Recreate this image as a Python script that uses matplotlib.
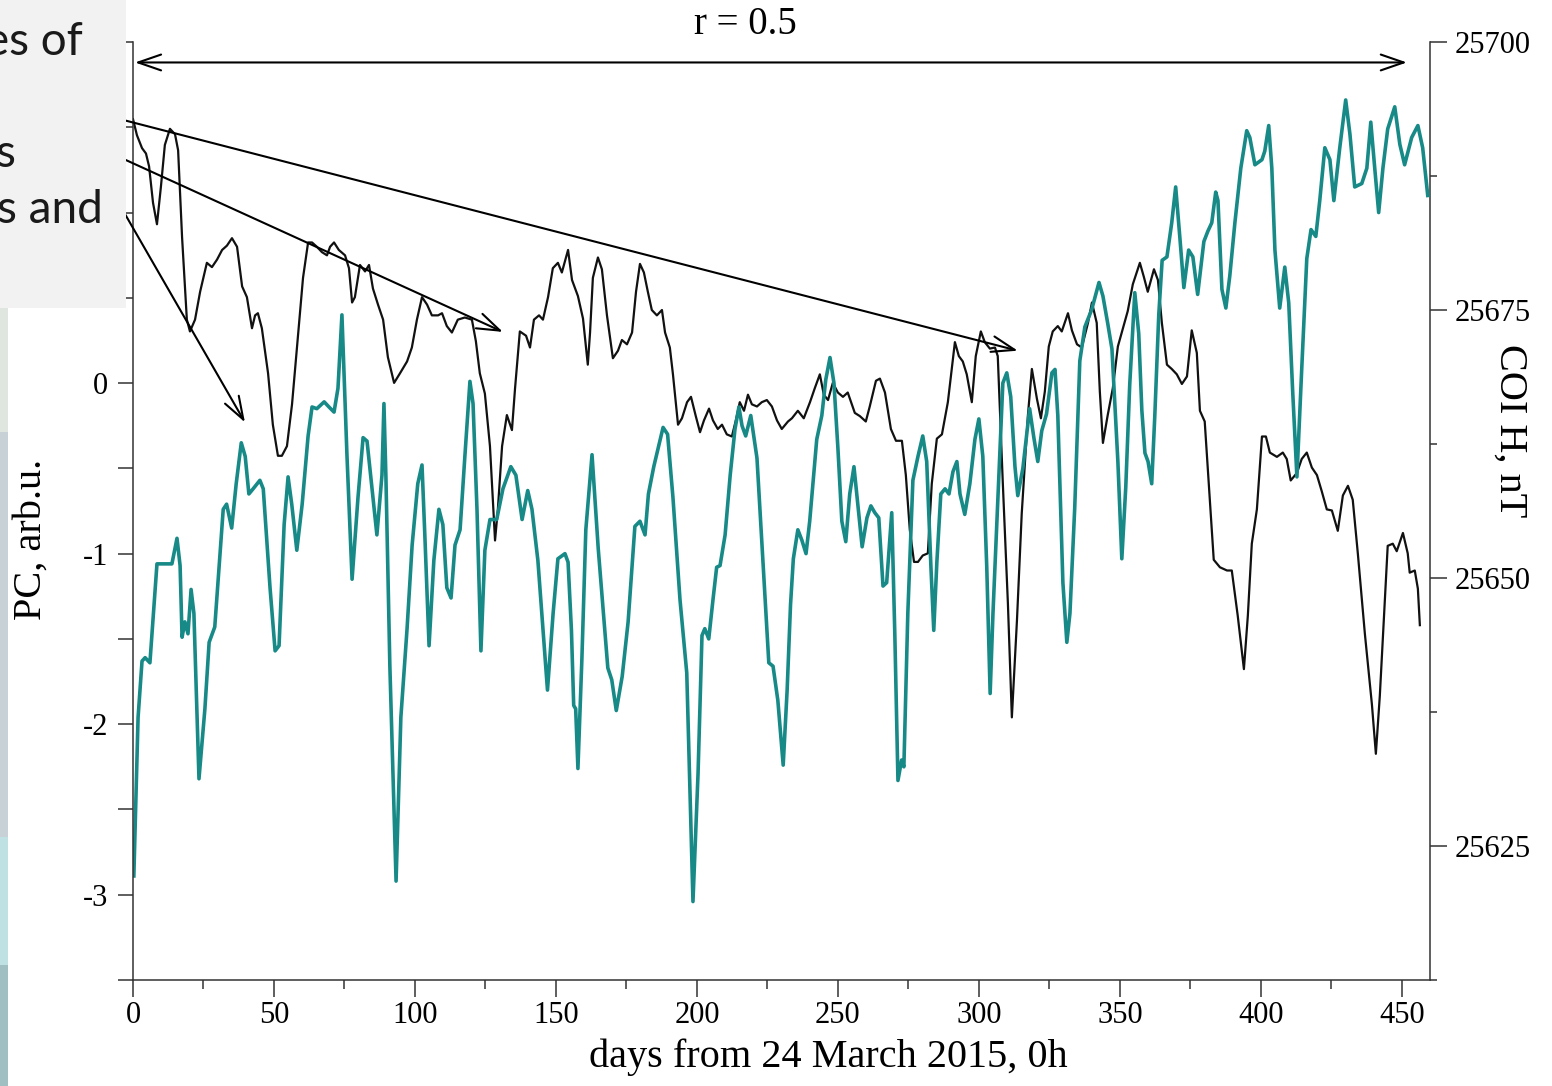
import matplotlib
matplotlib.use("Agg")
import matplotlib.pyplot as plt
from matplotlib.patches import Rectangle
from matplotlib.ticker import MultipleLocator

plt.rcParams['axes.unicode_minus'] = False
plt.rcParams['font.family'] = ['Liberation Serif', 'DejaVu Serif']

# PC series (left axis), days from 24 March 2015
teal_day = [
    0.3, 1.8, 3.2, 4.3, 6.0, 8.5, 10.3, 13.8, 15.6, 16.7,
    17.4, 18.4, 19.5, 20.6, 21.6, 23.4, 25.5, 27.0, 29.0, 32.0,
    33.2, 35.0, 36.6, 38.4, 39.8, 41.1, 42.6, 45.0, 46.2, 48.6,
    50.4, 51.8, 53.6, 55.0, 56.3, 58.1, 60.0, 62.1, 63.5, 65.2,
    67.8, 69.5, 71.3, 72.7, 74.1, 75.9, 77.7, 79.8, 81.6, 83.0,
    84.8, 86.5, 88.3, 89.0, 89.7, 91.1, 93.3, 95.0, 97.2, 99.0,
    101.0, 102.5, 103.5, 105.0, 106.7, 108.5, 109.9, 111.3, 112.8, 114.2,
    116.0, 117.7, 119.5, 120.6, 122.0, 123.4, 124.8, 126.6, 129.0, 131.2,
    134.0, 135.8, 138.0, 140.0, 141.5, 143.6, 147.0, 149.0, 150.7, 153.2,
    154.3, 155.5, 156.3, 157.0, 157.8, 159.2, 160.6, 162.8, 165.0, 168.4,
    169.8, 171.4, 173.5, 175.6, 178.0, 179.8, 181.6, 182.8, 184.7, 188.0,
    189.6, 191.5, 194.0, 196.4, 198.6, 200.4, 201.8, 202.8, 204.2, 205.7,
    207.0, 208.2, 210.0, 211.8, 213.5, 214.9, 216.0, 217.3, 219.1, 221.3,
    224.1, 225.5, 227.0, 228.7, 230.6, 232.0, 233.2, 234.2, 235.8, 237.2,
    238.7, 240.0, 242.5, 244.3, 245.7, 247.2, 248.6, 250.0, 251.4, 252.8,
    254.2, 255.7, 257.0, 258.6, 260.3, 261.7, 263.1, 264.5, 266.0, 267.3,
    269.1, 270.2, 271.3, 272.6, 273.4, 274.8, 276.6, 278.4, 280.1, 281.5,
    283.0, 284.0, 285.1, 286.5, 288.0, 289.4, 290.8, 292.2, 293.3, 295.0,
    296.8, 298.6, 300.0, 301.4, 302.8, 304.0, 305.0, 306.7, 308.5, 309.9,
    311.3, 312.8, 313.8, 315.6, 318.0, 319.5, 320.9, 322.3, 324.0, 325.9,
    327.0, 328.0, 329.8, 331.2, 332.3, 334.0, 335.8, 337.6, 340.0, 342.6,
    344.0, 345.7, 347.2, 349.3, 350.7, 352.1, 353.5, 355.3, 356.7, 357.8,
    358.9, 360.0, 361.3, 362.4, 363.8, 365.0, 366.7, 368.4, 369.8, 371.3,
    372.7, 374.4, 375.9, 377.6, 379.8, 381.2, 382.6, 384.0, 384.8, 386.2,
    387.6, 389.0, 390.8, 392.9, 395.0, 396.1, 397.9, 400.4, 401.4, 402.8,
    403.9, 405.0, 406.7, 408.5, 409.9, 411.3, 412.8, 414.5, 416.3, 417.8,
    419.5, 420.9, 422.7, 424.5, 425.9, 428.0, 430.1, 431.6, 433.3, 435.8,
    437.6, 439.0, 440.4, 441.8, 443.3, 445.0, 447.5, 449.3, 451.0, 453.5,
    455.7, 457.4, 459.2,
]
teal_pc = [
    -2.89, -1.96, -1.63, -1.61, -1.64, -1.06, -1.06, -1.06, -0.91, -1.07,
    -1.49, -1.40, -1.47, -1.21, -1.35, -2.32, -1.91, -1.52, -1.43, -0.74,
    -0.71, -0.85, -0.59, -0.35, -0.43, -0.65, -0.62, -0.57, -0.62, -1.20,
    -1.57, -1.54, -0.83, -0.55, -0.71, -0.98, -0.71, -0.31, -0.14, -0.15,
    -0.11, -0.14, -0.17, -0.03, 0.40, -0.43, -1.15, -0.67, -0.32, -0.34,
    -0.62, -0.89, -0.54, -0.12, -0.55, -1.66, -2.92, -1.96, -1.44, -0.95,
    -0.59, -0.48, -0.89, -1.54, -1.04, -0.74, -0.83, -1.20, -1.26, -0.95,
    -0.86, -0.43, 0.01, -0.12, -0.74, -1.57, -0.98, -0.80, -0.80, -0.62,
    -0.49, -0.54, -0.80, -0.63, -0.74, -1.04, -1.80, -1.35, -1.03, -1.00,
    -1.05, -1.45, -1.89, -1.91, -2.26, -1.62, -0.86, -0.42, -0.97, -1.67,
    -1.74, -1.92, -1.72, -1.40, -0.84, -0.81, -0.89, -0.65, -0.49, -0.26,
    -0.30, -0.67, -1.27, -1.70, -3.04, -2.29, -1.48, -1.44, -1.50, -1.27,
    -1.08, -1.07, -0.89, -0.54, -0.27, -0.14, -0.25, -0.31, -0.19, -0.44,
    -1.24, -1.64, -1.66, -1.86, -2.24, -1.80, -1.30, -1.03, -0.86, -0.92,
    -1.00, -0.81, -0.33, -0.19, 0.02, 0.15, 0.00, -0.38, -0.81, -0.93,
    -0.65, -0.49, -0.70, -0.96, -0.79, -0.72, -0.76, -0.79, -1.19, -1.17,
    -0.76, -1.48, -2.33, -2.21, -2.25, -1.35, -0.57, -0.43, -0.31, -0.46,
    -1.08, -1.45, -1.05, -0.65, -0.62, -0.65, -0.52, -0.46, -0.65, -0.77,
    -0.59, -0.33, -0.21, -0.43, -1.08, -1.82, -1.35, -0.70, 0.00, 0.06,
    -0.08, -0.49, -0.66, -0.50, -0.15, -0.32, -0.46, -0.28, -0.18, 0.06,
    0.08, -0.19, -1.17, -1.52, -1.35, -0.73, 0.13, 0.33, 0.43, 0.59,
    0.51, 0.35, 0.20, -0.46, -1.03, -0.61, -0.01, 0.53, 0.29, -0.16,
    -0.41, -0.46, -0.59, -0.19, 0.40, 0.72, 0.74, 0.94, 1.15, 0.85,
    0.56, 0.78, 0.74, 0.52, 0.83, 0.89, 0.94, 1.12, 1.07, 0.55,
    0.44, 0.63, 0.94, 1.26, 1.48, 1.44, 1.28, 1.31, 1.36, 1.51,
    1.26, 0.78, 0.44, 0.68, 0.47, -0.05, -0.55, 0.08, 0.73, 0.90,
    0.86, 1.07, 1.38, 1.31, 1.07, 1.38, 1.66, 1.46, 1.15, 1.17,
    1.26, 1.53, 1.26, 1.00, 1.26, 1.49, 1.62, 1.40, 1.28, 1.44,
    1.51, 1.38, 1.10,
]

# COI H component (right axis), nT
coi_day = [
    0.0, 1.4, 3.2, 4.6, 5.7, 7.1, 8.5, 9.9, 11.3, 13.1,
    14.9, 16.0, 17.4, 19.1, 20.2, 22.0, 23.8, 26.2, 28.0, 29.8,
    31.6, 33.3, 35.1, 36.9, 38.7, 40.4, 42.2, 43.3, 44.3, 45.7,
    47.9, 49.6, 51.4, 52.8, 54.6, 56.4, 58.5, 60.3, 62.1, 63.5,
    65.2, 67.0, 68.8, 69.9, 71.3, 73.0, 75.2, 76.6, 77.7, 78.7,
    80.5, 82.3, 83.7, 85.1, 86.9, 88.7, 90.4, 92.6, 94.7, 97.2,
    98.9, 100.7, 102.5, 104.3, 106.0, 108.2, 109.6, 111.3, 113.1, 115.2,
    117.7, 120.2, 121.6, 123.0, 124.8, 126.6, 128.4, 129.4, 130.9, 132.6,
    134.4, 135.5, 137.2, 139.4, 140.8, 142.2, 144.0, 145.4, 147.2, 148.9,
    150.7, 152.1, 154.3, 155.7, 157.8, 159.6, 161.3, 162.1, 163.1, 164.9,
    166.3, 168.1, 170.2, 172.0, 173.4, 175.2, 177.0, 178.4, 179.8, 181.2,
    182.6, 184.0, 185.8, 187.6, 188.7, 190.4, 191.5, 193.3, 194.7, 196.5,
    197.9, 199.6, 201.1, 202.5, 204.3, 205.7, 207.4, 208.9, 210.6, 212.4,
    213.8, 215.2, 216.7, 218.1, 219.5, 221.3, 223.0, 224.8, 226.6, 228.4,
    230.1, 232.3, 233.7, 235.8, 237.9, 240.1, 241.8, 243.6, 245.0, 246.5,
    248.2, 250.0, 251.8, 253.5, 256.0, 257.8, 259.9, 261.3, 263.5, 264.9,
    266.7, 268.8, 270.6, 272.7, 274.1, 275.5, 277.0, 278.4, 280.1, 281.9,
    283.3, 285.1, 286.9, 289.0, 291.5, 292.9, 294.3, 295.7, 297.5, 298.9,
    300.7, 302.1, 303.9, 305.7, 306.7, 308.5, 310.3, 311.7, 313.5, 315.2,
    317.4, 318.8, 320.6, 322.0, 323.4, 324.8, 326.2, 328.0, 329.4, 331.6,
    333.0, 334.8, 336.5, 338.7, 340.1, 341.8, 342.9, 344.0, 345.7, 347.5,
    349.3, 351.1, 352.8, 354.6, 357.1, 358.5, 359.9, 362.1, 363.5, 364.9,
    366.7, 368.4, 370.2, 372.0, 373.8, 375.5, 377.3, 378.4, 380.1, 381.6,
    383.3, 385.5, 388.0, 389.7, 391.8, 394.0, 395.4, 396.8, 398.6, 400.4,
    401.8, 403.2, 405.7, 407.8, 409.2, 410.6, 412.8, 414.5, 416.3, 418.1,
    419.9, 421.6, 423.4, 425.2, 427.3, 429.1, 430.9, 432.6, 434.4, 436.9,
    439.4, 440.8, 442.2, 444.0, 445.0, 446.8, 448.2, 450.4, 452.1, 452.8,
    454.6, 455.7, 456.4,
]
coi_h = [
    25692.8, 25691.3, 25690.1, 25689.6, 25688.4, 25685.0, 25683.0, 25686.5, 25690.4, 25691.9,
    25691.4, 25689.9, 25681.8, 25674.1, 25673.0, 25674.1, 25676.7, 25679.4, 25679.0, 25679.7,
    25680.6, 25681.0, 25681.7, 25680.9, 25677.2, 25676.2, 25673.3, 25674.5, 25674.7, 25673.3,
    25669.1, 25664.3, 25661.4, 25661.4, 25662.3, 25666.2, 25672.6, 25678.0, 25681.3, 25681.3,
    25680.9, 25680.4, 25680.1, 25680.9, 25681.3, 25680.6, 25680.1, 25678.9, 25675.7, 25676.2,
    25679.2, 25678.6, 25679.2, 25677.0, 25675.5, 25674.1, 25670.6, 25668.2, 25669.1, 25670.2,
    25671.5, 25674.1, 25676.2, 25675.5, 25674.5, 25674.5, 25674.7, 25673.5, 25672.9, 25674.1,
    25674.3, 25674.1, 25672.1, 25669.1, 25667.2, 25662.3, 25653.5, 25656.4, 25662.3, 25665.2,
    25663.8, 25667.7, 25673.0, 25672.6, 25671.5, 25674.1, 25674.5, 25674.1, 25676.2, 25678.9,
    25679.4, 25678.5, 25680.6, 25677.8, 25676.3, 25674.2, 25669.9, 25672.9, 25678.0, 25679.9,
    25678.8, 25674.5, 25670.5, 25671.2, 25672.2, 25671.8, 25672.9, 25676.7, 25679.3, 25678.5,
    25676.7, 25675.0, 25674.5, 25675.0, 25672.9, 25671.5, 25669.0, 25664.3, 25664.9, 25666.4,
    25666.9, 25665.1, 25663.6, 25664.7, 25665.8, 25664.7, 25663.9, 25664.3, 25663.4, 25663.2,
    25664.7, 25666.4, 25665.6, 25667.1, 25666.2, 25666.0, 25666.4, 25666.6, 25666.0, 25664.7,
    25663.9, 25664.6, 25664.9, 25665.6, 25664.9, 25666.4, 25667.7, 25669.0, 25667.1, 25666.6,
    25668.2, 25667.3, 25666.9, 25667.3, 25665.4, 25665.1, 25664.6, 25666.0, 25668.4, 25668.6,
    25667.3, 25663.9, 25662.8, 25662.8, 25659.6, 25654.5, 25651.5, 25651.5, 25652.1, 25652.3,
    25658.8, 25663.0, 25663.4, 25666.4, 25672.0, 25670.7, 25670.2, 25669.0, 25666.4, 25670.7,
    25673.0, 25672.0, 25671.4, 25671.5, 25670.7, 25658.8, 25647.6, 25637.0, 25646.0, 25656.0,
    25665.2, 25669.5, 25666.7, 25664.9, 25667.4, 25671.6, 25673.0, 25673.5, 25673.0, 25674.7,
    25673.1, 25671.8, 25671.5, 25673.8, 25675.7, 25673.8, 25667.4, 25662.6, 25665.2, 25667.7,
    25671.6, 25673.3, 25674.9, 25677.4, 25679.4, 25678.1, 25676.7, 25678.8, 25677.8, 25673.8,
    25669.9, 25669.5, 25669.0, 25668.1, 25668.8, 25673.1, 25671.0, 25665.6, 25664.6, 25658.5,
    25651.7, 25651.0, 25650.7, 25650.7, 25646.5, 25641.5, 25646.5, 25653.2, 25656.4, 25663.2,
    25663.2, 25661.7, 25661.3, 25661.7, 25661.1, 25659.1, 25659.8, 25661.1, 25661.7, 25660.3,
    25659.6, 25658.1, 25656.4, 25656.3, 25654.4, 25657.7, 25658.6, 25657.3, 25652.3, 25644.8,
    25638.2, 25633.6, 25639.0, 25648.1, 25653.0, 25653.2, 25652.5, 25654.2, 25652.3, 25650.5,
    25650.7, 25649.0, 25645.6,
]

day_ticks = [0, 50, 100, 150, 200, 250, 300, 350, 400, 450]
pc_ticks = [-3, -2, -1, 0, 1, 2]
pc_labels = ['-3', '-2', '-1', '0', '', '']   # 1 and 2 sit under the slide box
h_ticks = [25625, 25650, 25675, 25700]

W, H = 1552, 1086
fig = plt.figure(figsize=(W / 100, H / 100), dpi=100)
ax = fig.add_axes([133 / W, 106 / H, 1297 / W, 938 / H])
ax2 = ax.twinx()
ax.set_zorder(ax2.get_zorder() + 1)
ax.patch.set_visible(False)

ax2.plot(coi_day, coi_h, color='#111111', lw=1.6)
ax.plot(teal_day, teal_pc, color='#178a87', lw=2.6)

ax.set_xlim(0, 460)
ax.set_ylim(-3.5, 2.0)
ax2.set_ylim(25612.5, 25700)

ax.set_xticks(day_ticks)
ax.xaxis.set_minor_locator(MultipleLocator(25))
ax.set_yticks(pc_ticks)
ax.set_yticklabels(pc_labels)
ax.yaxis.set_minor_locator(MultipleLocator(0.5))
ax2.set_yticks(h_ticks)
ax2.yaxis.set_minor_locator(MultipleLocator(12.5))

spine_c = '#333333'
for s in ['top', 'right']:
    ax.spines[s].set_visible(False)
for s in ['top', 'left', 'bottom']:
    ax2.spines[s].set_visible(False)
for s in ['left', 'bottom']:
    ax.spines[s].set_linewidth(1.1)
    ax.spines[s].set_color(spine_c)
ax2.spines['right'].set_linewidth(1.1)
ax2.spines['right'].set_color(spine_c)

ax.tick_params(axis='x', which='major', length=12, width=1.1, color=spine_c,
               labelsize=22, pad=3)
ax.tick_params(axis='x', which='minor', length=6.5, width=1.1, color=spine_c)
ax.tick_params(axis='y', which='both', length=11, width=1.1, color=spine_c,
               labelsize=22, pad=7)
ax2.tick_params(axis='y', which='major', length=12, width=1.1, color=spine_c,
                labelsize=22, pad=6)
ax2.tick_params(axis='y', which='minor', length=5, width=1.1, color=spine_c)

ax.set_xlabel('days from 24 March 2015, 0h', fontsize=29)
ax.xaxis.set_label_coords(0.536, -0.062)
ax.set_ylabel('PC, arb.u.', fontsize=29)
ax.yaxis.set_label_coords(-0.064, 0.47)
ax2.set_ylabel('COI H, nT', fontsize=29, rotation=270, va='bottom')
ax2.yaxis.set_label_coords(1.047, 0.586)

fig.text(745 / W, 1 - 25 / H, 'r = 0.5', ha='center', va='center', fontsize=28)

# arrows
arw = dict(lw=1.5, color='black', shrinkA=0, shrinkB=0, mutation_scale=30)
ax.annotate('', xy=(0.7, 1.88), xytext=(451.8, 1.88), annotation_clip=False,
            arrowprops=dict(arrowstyle='<->, head_length=0.55, head_width=0.19', **arw),
            zorder=6)
arrow_ends = [((313.8, 0.19), (-2.8, 1.54)),
              ((131.2, 0.30), (-2.8, 1.31)),
              ((39.7, -0.23), (-2.8, 0.99))]
for tip, tail in arrow_ends:
    ax.annotate('', xy=tip, xytext=tail, annotation_clip=False,
                arrowprops=dict(arrowstyle='->, head_length=0.55, head_width=0.19', **arw),
                zorder=6)

# slide overlay pieces on the left
fig.add_artist(Rectangle((0, 1 - 308 / H), 126 / W, 308 / H, transform=fig.transFigure,
                         facecolor='#f2f2f2', edgecolor='none', zorder=10))
bands = [(308, 432, '#dfe6df'), (432, 837, '#c8d1d5'),
         (837, 965, '#bfe1e4'), (965, 1086, '#9fbfc2')]
for y0, y1, c in bands:
    fig.add_artist(Rectangle((0, 1 - y1 / H), 8 / W, (y1 - y0) / H, transform=fig.transFigure,
                             facecolor=c, edgecolor='none', zorder=10))

box_font = dict(family=['Lato', 'DejaVu Sans'], fontsize=33, color='#1a1a1a',
                ha='right', va='baseline', zorder=11)
fig.text(83 / W, 1 - 55 / H, 'es of', **box_font)
fig.text(15 / W, 1 - 167 / H, 's', **box_font)
fig.text(103 / W, 1 - 223 / H, 's and', **box_font)

fig.savefig('out.png', dpi=100)
